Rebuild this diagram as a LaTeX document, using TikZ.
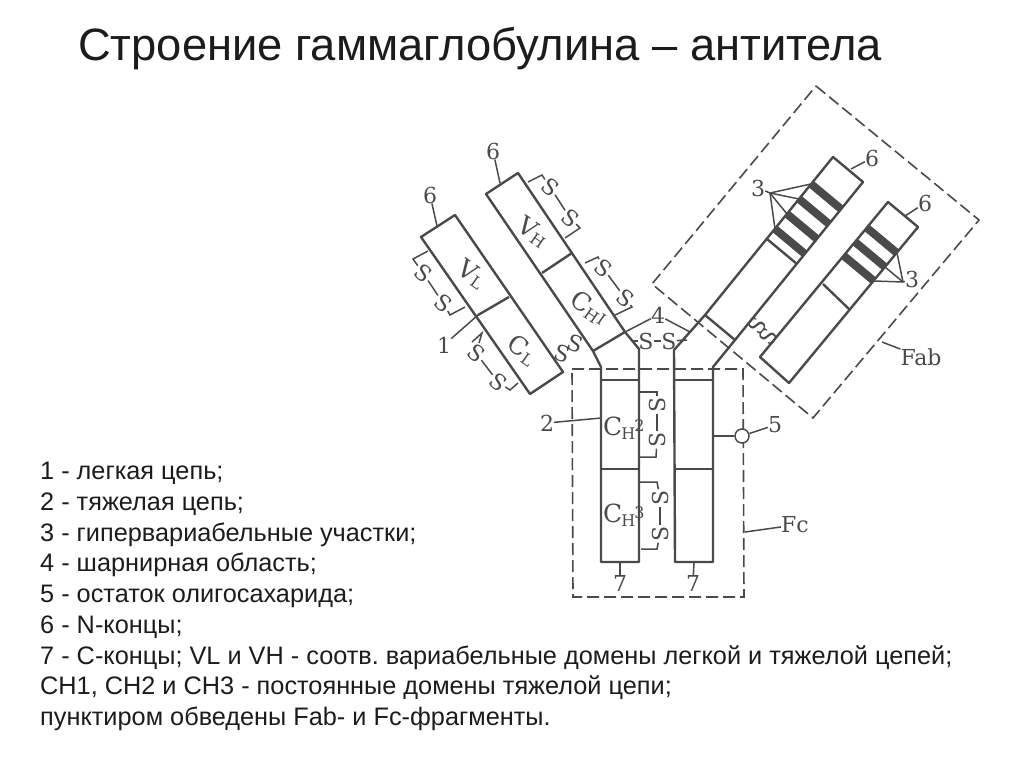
\documentclass[tikz,border=0pt]{standalone}
\usepackage{fontspec}
\setmainfont{Liberation Sans}
\newfontfamily\scanfont{DejaVu Serif}
\definecolor{ink}{HTML}{4A4A4A}
\definecolor{txt}{HTML}{1C1C1C}
\tikzset{
	chain/.style={draw=ink,line width=2.4pt,line join=round},
	thinln/.style={draw=ink,line width=1.5pt},
	band/.style={draw=ink,line width=8pt},
	frag/.style={draw=ink,line width=1.6pt,dash pattern=on 12pt off 5pt},
	lab/.style={text=ink,inner sep=0pt,font=\scanfont\fontsize{22}{22}\selectfont},
	dom/.style={text=ink,inner sep=0pt,font=\scanfont\fontsize{25}{25}\selectfont},
	sulf/.style={lab,inner sep=1pt},
}
\newcommand{\subs}[1]{\fontsize{16}{16}\selectfont #1}
\begin{document}
\frenchspacing
\begin{tikzpicture}[x=1pt,y=-1pt]
	\useasboundingbox (0,0) rectangle (1024,768);
	% Texts
	\node (title) [anchor=west,inner sep=0pt,text=txt,font=\fontsize{45.3}{50}\selectfont] at (78,49) {Строение гаммаглобулина – антитела};
	\node (legend) [anchor=north west,inner sep=0pt,align=left,text=txt,font=\fontsize{25.3}{30.75}\selectfont] at (40,462) {1 - легкая цепь;\\
		2 - тяжелая цепь;\\
		3 - гипервариабельные участки;\\
		4 - шарнирная область;\\
		5 - остаток олигосахарида;\\
		6 - N-концы;\\
		7 - С-концы; VL и VH - соотв. вариабельные домены легкой и тяжелой цепей;\\
		CH1, CH2 и CH3 - постоянные домены тяжелой цепи;\\
		пунктиром обведены Fab- и Fc-фрагменты.};

	% Dashed frames
	\coordinate (fabn) at (816,86);
	\coordinate (fabe) at (979,220);
	\coordinate (fabs) at (813,418);
	\coordinate (fabw) at (652,284);
	\draw[frag] (fabn) -- (fabe) -- (fabs) -- (fabw) -- cycle;
	\coordinate (fcnw) at (572,369);
	\coordinate (fcne) at (743,369);
	\coordinate (fcse) at (744,597);
	\coordinate (fcsw) at (573,597);
	\draw[frag] (fcnw) -- (fcne) -- (fcse) -- (fcsw) -- cycle;

	% Left light chain
	\coordinate (la) at (421,237);
	\coordinate (lb) at (455,215);
	\coordinate (lc) at (563,372);
	\coordinate (ld) at (530,394);
	\coordinate (lm) at (478,315);
	\coordinate (ln) at (509,297);
	\draw[chain] (la) -- (lb) -- (lc) -- (ld) -- cycle;
	\draw[chain] (lm) -- (ln);

	% Left heavy chain
	\coordinate (ha) at (486,194);
	\coordinate (hb) at (518,173);
	\coordinate (hc) at (625,332);
	\coordinate (hd) at (639,349);
	\coordinate (he) at (639,562);
	\coordinate (hf) at (601,562);
	\coordinate (hg) at (601,367);
	\coordinate (hh) at (593,351);
	\coordinate (hm) at (542,273);
	\coordinate (hn) at (572,253);
	\coordinate (ho) at (601,380);
	\coordinate (hp) at (639,380);
	\coordinate (hq) at (601,469);
	\coordinate (hr) at (639,469);
	\draw[chain] (ha) -- (hb) -- (hc) -- (hd) -- (he) -- (hf) -- (hg) -- (hh) -- cycle;
	\draw[chain] (hm) -- (hn);
	\draw[chain] (hh) -- (hc);
	\draw[chain] (ho) -- (hp);
	\draw[thinln] (hq) -- (hr);

	% Right heavy chain
	\coordinate (ra) at (833,157);
	\coordinate (rb) at (863,182);
	\coordinate (rc) at (735,340);
	\coordinate (rd) at (713,367);
	\coordinate (re) at (713,562);
	\coordinate (rf) at (675,562);
	\coordinate (rg) at (674,350);
	\coordinate (rh) at (705,315);
	\coordinate (ro) at (675,380);
	\coordinate (rp) at (713,380);
	\coordinate (rq) at (675,469);
	\coordinate (rr) at (713,469);
	\draw[chain] (ra) -- (rb) -- (rc) -- (rd) -- (re) -- (rf) -- (rg) -- (rh) -- cycle;
	\draw[chain] (rh) -- (rc);
	\draw[chain] (ro) -- (rp);
	\draw[thinln] (rq) -- (rr);
	% Bands of the right heavy chain
	\coordinate (b1a) at (811,184);
	\coordinate (b1b) at (841,209);
	\coordinate (b2a) at (799,199);
	\coordinate (b2b) at (829,224);
	\coordinate (b3a) at (787,214);
	\coordinate (b3b) at (817,239);
	\coordinate (b4a) at (775,229);
	\coordinate (b4b) at (805,254);
	\coordinate (b5a) at (767,239);
	\coordinate (b5b) at (797,264);
	\draw[band] (b1a) -- (b1b);
	\draw[band] (b2a) -- (b2b);
	\draw[band] (b3a) -- (b3b);
	\draw[band] (b4a) -- (b4b);
	\draw[chain] (b5a) -- (b5b);

	% Right light chain
	\coordinate (sa) at (888,202);
	\coordinate (sb) at (918,227);
	\coordinate (sc) at (789,383);
	\coordinate (sd) at (760,357);
	\coordinate (sm) at (823,284);
	\coordinate (sn) at (850,310);
	\draw[chain] (sa) -- (sb) -- (sc) -- (sd) -- cycle;
	\draw[chain] (sm) -- (sn);
	\coordinate (c1a) at (867,228);
	\coordinate (c1b) at (897,253);
	\coordinate (c2a) at (855,242);
	\coordinate (c2b) at (885,267);
	\coordinate (c3a) at (844,256);
	\coordinate (c3b) at (874,281);
	\draw[band] (c1a) -- (c1b);
	\draw[band] (c2a) -- (c2b);
	\draw[band] (c3a) -- (c3b);

	% Domain names
	\node (vl) [dom,rotate=-35] at (472,274) {V\raisebox{-3pt}{\subs{L}}};
	\node (cl) [dom,rotate=-35] at (522,350) {C\raisebox{-3pt}{\subs{L}}};
	\node (vh) [dom,rotate=-35] at (533,232) {V\raisebox{-3pt}{\subs{H}}};
	\node (ch1) [dom,rotate=-35] at (589,308) {C\raisebox{-3pt}{\subs{H}}\subs{I}};
	\node (ch2) [dom,anchor=west] at (603,428) {C\kern-1pt\raisebox{-4pt}{\subs{H}}\kern-1pt\raisebox{4pt}{\subs{2}}};
	\node (ch3) [dom,anchor=west] at (603,515) {C\kern-1pt\raisebox{-4pt}{\subs{H}}\kern-1pt\raisebox{4pt}{\subs{3}}};

	% Disulfide bonds
	\node (s1) [sulf,rotate=-40] at (423,273) {S};
	\node (s2) [sulf,rotate=-40] at (443,303) {S};
	\coordinate (s1a) at (428,251);
	\coordinate (s1b) at (413,259);
	\coordinate (s2a) at (450,315);
	\coordinate (s2b) at (465,307);
	\draw[thinln] (s1a) -- (s1b) -- (s1);
	\draw[thinln] (s1) -- (s2);
	\draw[thinln] (s2) -- (s2a) -- (s2b);

	\node (s3) [sulf,rotate=-40] at (476,353) {S};
	\node (s4) [sulf,rotate=-40] at (498,382) {S};
	\coordinate (s3a) at (472,342);
	\coordinate (s3b) at (482,333);
	\coordinate (s4a) at (510,390);
	\coordinate (s4b) at (518,383);
	\draw[thinln] (s3a) -- (s3b) -- (s3);
	\draw[thinln] (s3) -- (s4);
	\draw[thinln] (s4) -- (s4a) -- (s4b);

	\node (s5) [sulf,rotate=-40] at (550,187) {S};
	\node (s6) [sulf,rotate=-40] at (570,218) {S};
	\coordinate (s5a) at (528,182);
	\coordinate (s5b) at (542,175);
	\coordinate (s6a) at (580,228);
	\coordinate (s6b) at (565,238);
	\draw[thinln] (s5a) -- (s5b) -- (s5);
	\draw[thinln] (s5) -- (s6);
	\draw[thinln] (s6) -- (s6a) -- (s6b);

	\node (s7) [sulf,rotate=-40] at (603,268) {S};
	\node (s8) [sulf,rotate=-40] at (625,298) {S};
	\coordinate (s7a) at (585,263);
	\coordinate (s7b) at (598,257);
	\coordinate (s8a) at (632,307);
	\coordinate (s8b) at (615,315);
	\draw[thinln] (s7a) -- (s7b) -- (s7);
	\draw[thinln] (s7) -- (s8);
	\draw[thinln] (s8) -- (s8a) -- (s8b);

	\node (s9) [sulf,rotate=90] at (657,405) {S};
	\node (s10) [sulf,rotate=90] at (657,440) {S};
	\coordinate (s9a) at (639,392);
	\coordinate (s9b) at (657,392);
	\coordinate (s10a) at (656,457);
	\coordinate (s10b) at (639,457);
	\draw[thinln] (s9a) -- (s9b) -- (s9);
	\draw[thinln] (s9) -- (s10);
	\draw[thinln] (s10) -- (s10a) -- (s10b);

	\node (s11) [sulf,rotate=90] at (660,498) {S};
	\node (s12) [sulf,rotate=90] at (660,534) {S};
	\coordinate (s11a) at (640,482);
	\coordinate (s11b) at (657,482);
	\coordinate (s12a) at (657,549);
	\coordinate (s12b) at (641,549);
	\draw[thinln] (s11a) -- (s11b) -- (s11);
	\draw[thinln] (s11) -- (s12);
	\draw[thinln] (s12) -- (s12a) -- (s12b);

	% Bonds between chains
	\node (s13) [sulf,rotate=-20,inner sep=0pt] at (562,354) {S};
	\node (s14) [sulf,rotate=-20,inner sep=0pt] at (575,344) {S};
	\node (s15) [sulf,inner sep=0pt] at (646,341) {S};
	\node (s16) [sulf,inner sep=0pt] at (669,341) {S};
	\coordinate (s15a) at (633,341);
	\coordinate (s16a) at (687,340);
	\draw[thinln] (s15a) -- (s15);
	\draw[thinln] (s15) -- (s16);
	\draw[thinln] (s16) -- (s16a);
	\node (s17) [sulf,rotate=55,inner sep=0pt] at (757,326) {S};
	\node (s18) [sulf,rotate=55,inner sep=0pt] at (768,337) {S};

	% Number labels with leaders
	\node (n1) [lab] at (444,345) {1};
	\draw[thinln] (n1) -- (lm);
	\node (n2) [lab] at (547,423) {2};
	\coordinate (n2a) at (601,418);
	\draw[thinln] (n2) -- (n2a);
	\node (n4) [lab] at (658,315) {4};
	\coordinate (n4a) at (690,332);
	\draw[thinln] (hc) -- (n4);
	\draw[thinln] (n4) -- (n4a);
	\node (n5) [lab] at (775,425) {5};
	\node (oligo) [circle,draw=ink,line width=1.5pt,fill=white,minimum size=14pt,inner sep=0pt] at (742,436) {};
	\coordinate (n5a) at (713,436);
	\draw[thinln] (n5a) -- (oligo);
	\draw[thinln] (oligo) -- (n5);

	\node (n6a) [lab] at (430,195) {6};
	\coordinate (n6aa) at (437,226);
	\draw[thinln] (n6a) -- (n6aa);
	\node (n6b) [lab] at (493,151) {6};
	\coordinate (n6ba) at (500,183);
	\draw[thinln] (n6b) -- (n6ba);
	\node (n6c) [lab] at (872,158) {6};
	\coordinate (n6ca) at (851,169);
	\draw[thinln] (n6c) -- (n6ca);
	\node (n6d) [lab] at (925,203) {6};
	\coordinate (n6da) at (905,216);
	\draw[thinln] (n6d) -- (n6da);

	\node (n7a) [lab] at (620,583) {7};
	\coordinate (n7aa) at (620,562);
	\draw[thinln] (n7a) -- (n7aa);
	\node (n7b) [lab] at (693,583) {7};
	\coordinate (n7ba) at (694,562);
	\draw[thinln] (n7b) -- (n7ba);

	% Hypervariable leaders
	\node (n3a) [lab] at (758,188) {3};
	\coordinate (n3at) at (770,193);
	\draw[thinln] (n3a) -- (n3at);
	\draw[thinln] (n3at) -- (b1a);
	\draw[thinln] (n3at) -- (b2a);
	\draw[thinln] (n3at) -- (b3a);
	\draw[thinln] (n3at) -- (b4a);
	\node (n3b) [lab] at (912,279) {3};
	\coordinate (n3bt) at (903,282);
	\draw[thinln] (n3b) -- (n3bt);
	\draw[thinln] (n3bt) -- (c1b);
	\draw[thinln] (n3bt) -- (c2b);
	\draw[thinln] (n3bt) -- (c3b);

	% Fragment names
	\node (fab) [lab] at (921,357) {Fab};
	\coordinate (faba) at (882,342);
	\draw[thinln] (fab) -- (faba);
	\node (fc) [lab] at (795,525) {Fc};
	\coordinate (fca) at (745,532);
	\draw[thinln] (fc) -- (fca);
\end{tikzpicture}
\end{document}
